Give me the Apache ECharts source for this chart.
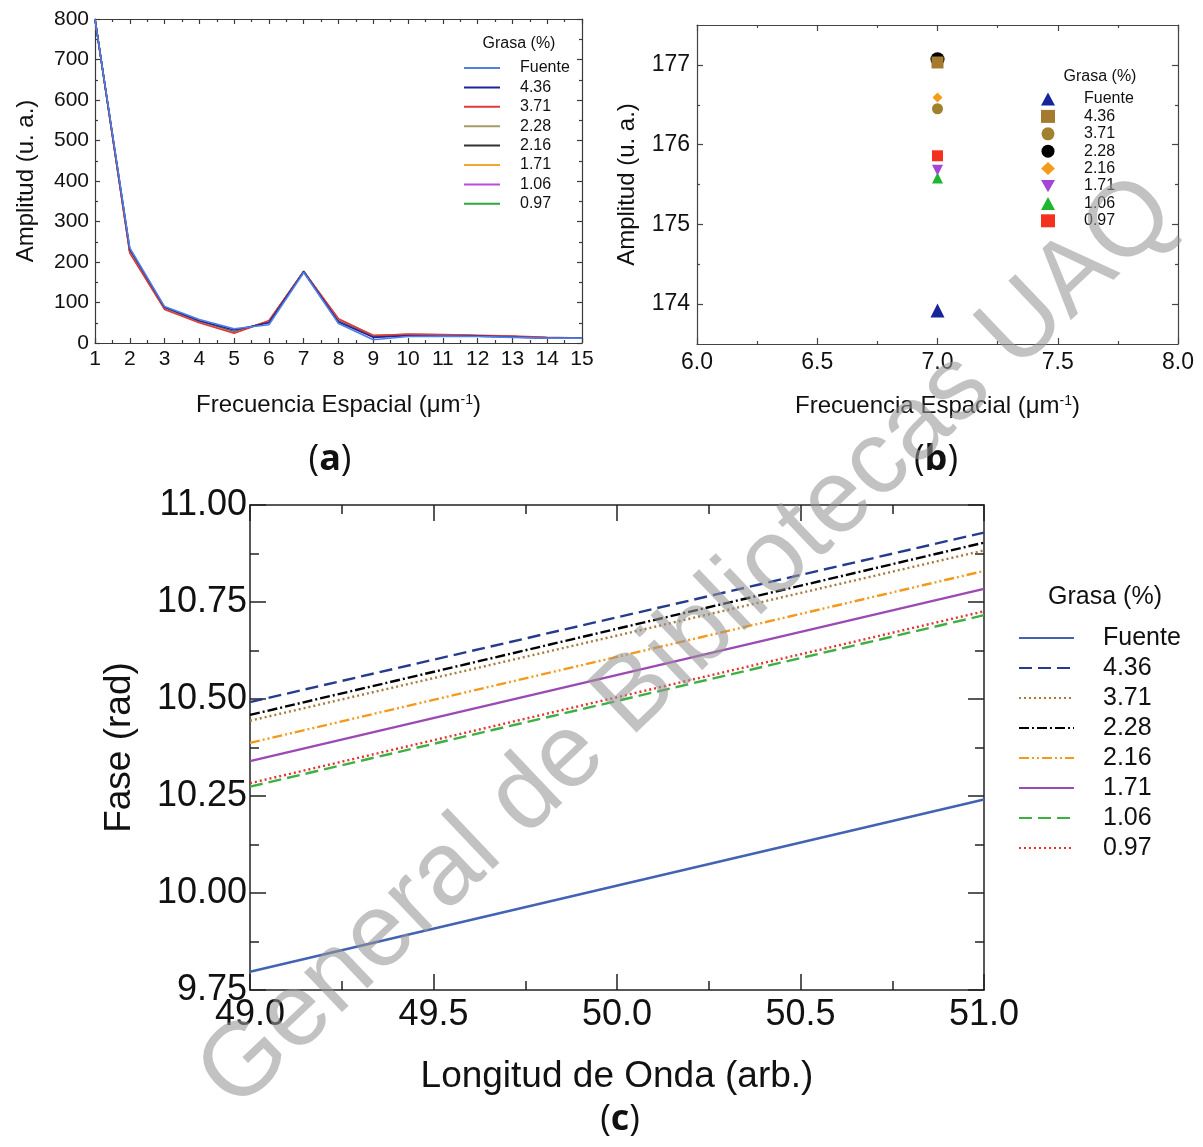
<!DOCTYPE html>
<html>
<head>
<meta charset="utf-8">
<script src="https://cdn.jsdelivr.net/npm/echarts@6/dist/echarts.min.js"></script>
<style>
html,body{margin:0;padding:0;background:#fff;}
#chart{width:1203px;height:1147px;}
</style>
</head>
<body>
<div id="chart"></div>
<script>
// ---------- DATA ----------
const seriesNames = ['Fuente', '4.36', '3.71', '2.28', '2.16', '1.71', '1.06', '0.97'];

// Panel (a): amplitude spectrum vs spatial frequency
const freqA = [1, 2, 3, 4, 5, 6, 7, 8, 9, 10, 11, 12, 13, 14, 15];
const ampA_Fuente = [800, 235, 90, 58, 35, 45, 174, 48, 8, 16, 17, 16, 14, 12, 12];
const ampA_436 = [800, 232, 88, 55, 32, 50, 176, 52, 14, 18, 18, 17, 15, 12, 12];
const ampA_371 = [800, 222, 83, 50, 24, 55, 176, 60, 18, 22, 21, 19, 17, 14, 12];
const ampA_228 = [800, 225, 85, 52, 26, 54, 177, 58, 19, 21, 20, 18, 16, 13, 12];
const ampA_216 = [800, 226, 86, 52, 27, 53, 177, 57, 18, 20, 19, 18, 16, 13, 12];
const ampA_171 = [800, 224, 84, 51, 25, 55, 176, 59, 19, 21, 20, 18, 16, 13, 12];
const ampA_106 = [800, 228, 86, 53, 27, 53, 176, 56, 17, 20, 19, 18, 16, 13, 12];
const ampA_097 = [800, 227, 86, 53, 27, 53, 176, 57, 17, 20, 19, 18, 15, 13, 12];

// Panel (b): amplitude at frequency 7
const freqB = 7.0;
const ampB = [173.92, 177.03, 176.45, 177.07, 176.59, 175.68, 175.58, 175.86];

// Panel (c): phase vs wavelength (straight lines, endpoints)
const waveC = [49.0, 51.0];
const phaseC_Fuente = [9.797, 10.241];
const phaseC_436 = [10.492, 10.929];
const phaseC_371 = [10.444, 10.883];
const phaseC_228 = [10.459, 10.903];
const phaseC_216 = [10.387, 10.830];
const phaseC_171 = [10.340, 10.784];
const phaseC_106 = [10.274, 10.716];
const phaseC_097 = [10.283, 10.726];

// Tick labels
const yTicksB = [174, 175, 176, 177];
const yMinorB = [174.5, 175.5, 176.5];

// ---------- STYLES ----------
const FONT = '"Liberation Sans", Arial, sans-serif';
const colorsA = ['#4f80e6', '#1f239c', '#e23b3b', '#a69a6c', '#333333', '#f2a62c', '#b54fdc', '#2ea83c'];
const colorsB = ['#17249a', '#a47a2e', '#a0822e', '#000000', '#f39c1a', '#a346d6', '#1fb52f', '#f2321e'];
const symbolsB = ['triangle', 'rect', 'circle', 'circle', 'diamond', 'path://M0,0L2,0L1,1.75Z', 'triangle', 'rect'];
const sizesB = [14, 12, 11, 14, 10, 11, 11, 11];
const colorsC = ['#4263b3', '#263b8c', '#a77a3e', '#000000', '#f39a1e', '#9b49b3', '#3cb043', '#e23232'];
const dashC = ['solid', [13, 6], [2, 3], [10, 3, 2, 3], [10, 3, 2, 3, 2, 3], 'solid', [13, 6], [2, 3]];

const ampA = [ampA_Fuente, ampA_436, ampA_371, ampA_228, ampA_216, ampA_171, ampA_106, ampA_097];
const phaseC = [phaseC_Fuente, phaseC_436, phaseC_371, phaseC_228, phaseC_216, phaseC_171, phaseC_106, phaseC_097];

function axisBase(gridIndex, pos, min, max, opts) {
  const o = Object.assign({
    type: 'value', gridIndex: gridIndex, position: pos, min: min, max: max,
    splitLine: {show: false},
    axisLine: {show: true, onZero: false, lineStyle: {color: opts.lineColor, width: opts.lineWidth}},
    axisTick: {show: true, inside: true, length: opts.tick, lineStyle: {color: opts.lineColor, width: opts.lineWidth}},
    minorTick: {show: opts.minor !== false, splitNumber: 2, length: opts.minorLen, lineStyle: {color: opts.lineColor, width: opts.lineWidth}},
    axisLabel: {show: false}
  }, opts.extra || {});
  if (opts.interval !== undefined) o.interval = opts.interval;
  return o;
}

const stA = {lineColor: '#3a3a3a', lineWidth: 1.2, tick: 5, minorLen: 3};
const stB = {lineColor: '#444444', lineWidth: 1.2, tick: 6, minorLen: 3};
const stC = {lineColor: '#222222', lineWidth: 1.5, tick: 16, minorLen: 9};

const lblA = {show: true, fontSize: 21, color: '#111', fontFamily: FONT, margin: 6};
const lblB = {show: true, fontSize: 23, color: '#111', fontFamily: FONT, margin: 7};
const lblC = {show: true, fontSize: 36, color: '#111', fontFamily: FONT, margin: 3};

const supRich = (fs, ss) => ({sup: {fontSize: ss, fontFamily: FONT, color: '#111', verticalAlign: 'top', padding: [0, 0, fs * 0.4, 0]}});

const xAxes = [
  // grid 0
  axisBase(0, 'bottom', 1, 15, Object.assign({}, stA, {interval: 1, extra: {
    axisLabel: lblA, name: 'Frecuencia Espacial (μm{sup|-1})', nameLocation: 'middle', nameGap: 50,
    nameTextStyle: {fontSize: 24, color: '#111', fontFamily: FONT, rich: supRich(24, 14)}}})),
  axisBase(0, 'top', 1, 15, Object.assign({}, stA, {interval: 1})),
  // grid 1
  axisBase(1, 'bottom', 6, 8, Object.assign({}, stB, {interval: 0.5, extra: {
    axisLabel: Object.assign({}, lblB, {formatter: v => v.toFixed(1)}),
    name: 'Frecuencia Espacial (μm{sup|-1})', nameLocation: 'middle', nameGap: 50,
    nameTextStyle: {fontSize: 24, color: '#111', fontFamily: FONT, rich: supRich(24, 14)}}})),
  axisBase(1, 'top', 6, 8, Object.assign({}, stB, {interval: 0.5})),
  // grid 2
  axisBase(2, 'bottom', 49, 51, Object.assign({}, stC, {interval: 0.5, extra: {
    axisLabel: Object.assign({}, lblC, {formatter: v => v.toFixed(1), margin: 7}),
    name: 'Longitud de Onda (arb.)', nameLocation: 'middle', nameGap: 68,
    nameTextStyle: {fontSize: 37, color: '#111', fontFamily: FONT}}})),
  axisBase(2, 'top', 49, 51, Object.assign({}, stC, {interval: 0.5}))
];

const yAxes = [
  // grid 0
  axisBase(0, 'left', 0, 800, Object.assign({}, stA, {interval: 100, extra: {
    axisLabel: lblA, name: 'Amplitud (u. a.)', nameLocation: 'middle', nameGap: 57,
    nameTextStyle: {fontSize: 24, color: '#111', fontFamily: FONT}}})),
  axisBase(0, 'right', 0, 800, Object.assign({}, stA, {interval: 100})),
  // grid 1 major
  axisBase(1, 'left', 173.5, 177.5, Object.assign({}, stB, {minor: false, extra: {
    axisLabel: Object.assign({}, lblB, {customValues: yTicksB}),
    axisTick: {show: true, inside: true, length: 6, customValues: yTicksB, lineStyle: {color: '#444', width: 1.2}},
    name: 'Amplitud (u. a.)', nameLocation: 'middle', nameGap: 58,
    nameTextStyle: {fontSize: 24, color: '#111', fontFamily: FONT}}})),
  axisBase(1, 'right', 173.5, 177.5, Object.assign({}, stB, {minor: false, extra: {
    axisTick: {show: true, inside: true, length: 6, customValues: yTicksB, lineStyle: {color: '#444', width: 1.2}}}})),
  // grid 1 minor tick helpers
  axisBase(1, 'left', 173.5, 177.5, Object.assign({}, stB, {minor: false, extra: {
    axisLine: {show: false},
    axisTick: {show: true, inside: true, length: 3, customValues: yMinorB, lineStyle: {color: '#444', width: 1.2}}}})),
  axisBase(1, 'right', 173.5, 177.5, Object.assign({}, stB, {minor: false, extra: {
    axisLine: {show: false},
    axisTick: {show: true, inside: true, length: 3, customValues: yMinorB, lineStyle: {color: '#444', width: 1.2}}}})),
  // grid 2
  axisBase(2, 'left', 9.75, 11, Object.assign({}, stC, {interval: 0.25, extra: {
    axisLabel: Object.assign({}, lblC, {formatter: v => v.toFixed(2)}),
    name: 'Fase (rad)', nameLocation: 'middle', nameGap: 112,
    nameTextStyle: {fontSize: 37, color: '#111', fontFamily: FONT}}})),
  axisBase(2, 'right', 9.75, 11, Object.assign({}, stC, {interval: 0.25}))
];

// ---------- SERIES ----------
const series = [];
// Panel (a) - draw in reverse so Fuente / 4.36 are on top
for (let i = seriesNames.length - 1; i >= 0; i--) {
  series.push({
    type: 'line', name: seriesNames[i] + '#a', xAxisIndex: 0, yAxisIndex: 0,
    data: freqA.map((f, k) => [f, ampA[i][k]]),
    symbol: 'none', clip: true,
    lineStyle: {color: colorsA[i], width: 1.6}, itemStyle: {color: colorsA[i]}
  });
}
// Panel (b)
for (let i = seriesNames.length - 1; i >= 0; i--) {
  series.push({
    type: 'scatter', name: seriesNames[i] + '#b', xAxisIndex: 2, yAxisIndex: 2,
    data: [[freqB, ampB[i]]],
    symbol: symbolsB[i], symbolSize: sizesB[i],
    itemStyle: {color: colorsB[i], opacity: 1}
  });
}
// Panel (c)
for (let i = 0; i < seriesNames.length; i++) {
  series.push({
    type: 'line', name: seriesNames[i] + '#c', xAxisIndex: 4, yAxisIndex: 6,
    data: waveC.map((w, k) => [w, phaseC[i][k]]),
    symbol: 'none',
    lineStyle: {color: colorsC[i], width: 2.4, type: dashC[i]}, itemStyle: {color: colorsC[i]}
  });
}

const legendFmt = n => n.split('#')[0];

const option = {
  animation: false,
  backgroundColor: '#ffffff',
  grid: [
    {left: 95, top: 19, width: 487, height: 324, containLabel: false},
    {left: 697, top: 25, width: 481, height: 319, containLabel: false},
    {left: 250, top: 505, width: 734, height: 485, containLabel: false}
  ],
  xAxis: xAxes,
  yAxis: yAxes,
  legend: [
    {
      data: seriesNames.map(n => n + '#a'), formatter: legendFmt,
      orient: 'vertical', left: 463, top: 60, padding: 0,
      itemWidth: 36, itemHeight: 10, itemGap: 3.4, selectedMode: false,
      itemStyle: {opacity: 0},
      textStyle: {fontSize: 16, lineHeight: 16, color: '#111', fontFamily: FONT, padding: [0, 0, 0, 15]}
    },
    {
      data: seriesNames.map(n => n + '#b'), formatter: legendFmt,
      orient: 'vertical', left: 1041, top: 91, padding: 0,
      itemWidth: 14, itemHeight: 13, itemGap: 1.4, selectedMode: false,
      textStyle: {fontSize: 16, lineHeight: 16, color: '#111', fontFamily: FONT, padding: [0, 0, 0, 24]}
    },
    {
      data: seriesNames.map(n => n + '#c'), formatter: legendFmt,
      orient: 'vertical', left: 1018, top: 625, padding: 0,
      itemWidth: 55, itemHeight: 14, itemGap: 4, selectedMode: false,
      itemStyle: {opacity: 0},
      textStyle: {fontSize: 25, lineHeight: 26, color: '#111', fontFamily: FONT, padding: [0, 0, 0, 24]}
    }
  ],
  graphic: [
    {type: 'text', x: 519, y: 44, style: {text: 'Grasa (%)', font: '16px ' + FONT, fill: '#111', align: 'center', verticalAlign: 'middle'}},
    {type: 'text', x: 1100, y: 77, style: {text: 'Grasa (%)', font: '16px ' + FONT, fill: '#111', align: 'center', verticalAlign: 'middle'}},
    {type: 'text', x: 1105, y: 597, style: {text: 'Grasa (%)', font: '25px ' + FONT, fill: '#111', align: 'center', verticalAlign: 'middle'}},
    {type: 'text', x: 330, y: 460, style: {text: '({b|a})', font: '36px "Open Sans", ' + FONT, fill: '#111', align: 'center', verticalAlign: 'middle',
      rich: {b: {fontWeight: 'bold', fontSize: 36, fontFamily: '"Open Sans"', fill: '#111'}}}},
    {type: 'text', x: 936, y: 460, style: {text: '({b|b})', font: '36px "Open Sans", ' + FONT, fill: '#111', align: 'center', verticalAlign: 'middle',
      rich: {b: {fontWeight: 'bold', fontSize: 36, fontFamily: '"Open Sans"', fill: '#111'}}}},
    {type: 'text', x: 620, y: 1120, style: {text: '({b|c})', font: '36px "Open Sans", ' + FONT, fill: '#111', align: 'center', verticalAlign: 'middle',
      rich: {b: {fontWeight: 'bold', fontSize: 36, fontFamily: '"Open Sans"', fill: '#111'}}}},
    {type: 'text', x: 688, y: 644, rotation: 43.5 * Math.PI / 180, z: 100, silent: true,
      style: {text: 'General de Bibliotecas UAQ', font: '104px ' + FONT, fill: 'rgba(150,150,150,0.58)', align: 'center', verticalAlign: 'middle'}}
  ],
  series: series
};

const chart = echarts.init(document.getElementById('chart'), null, {renderer: 'canvas'});
chart.setOption(option);
</script>
</body>
</html>
